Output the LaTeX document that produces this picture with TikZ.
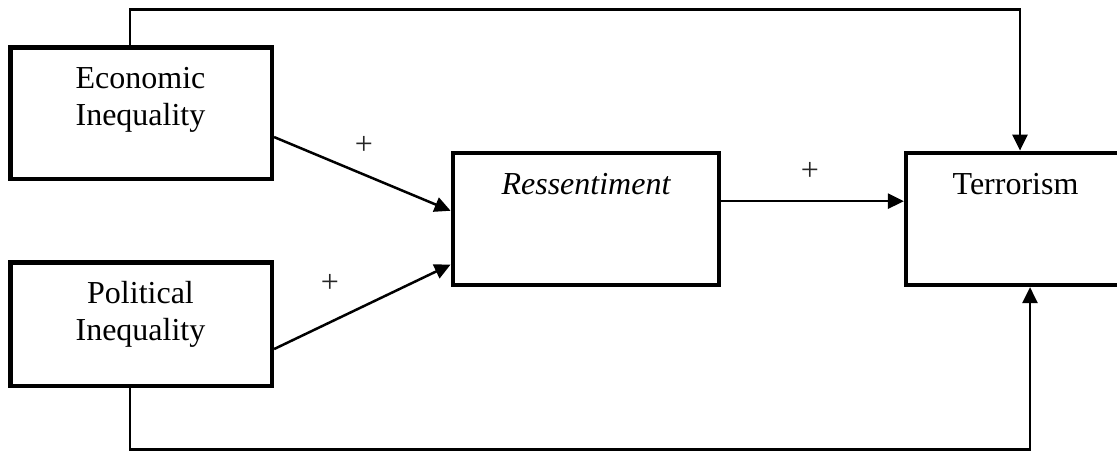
\documentclass[tikz,border=0pt]{standalone}
\usepackage{fontspec}
\setmainfont{Liberation Serif}
\usetikzlibrary{arrows.meta}

\tikzset{
  box/.style={draw=black, line width=2.1pt, inner sep=0pt, fill=white},
  lbl/.style={anchor=base, inner sep=0pt, font=\fontsize{16}{18.3}\selectfont},
  sign/.style={anchor=center, inner sep=0pt, text=black!85, font=\fontsize{16}{18.3}\selectfont},
  link/.style={draw=black, line width=1.25pt, -{Triangle[length=8pt, width=7.5pt]}},
}

\begin{document}
\begin{tikzpicture}[x=0.5pt, y=-0.5pt]
  \useasboundingbox (0,0) rectangle (1117,451);
  \clip (0,0) rectangle (1117,451);

  % boxes
  \node[box, minimum width=130.75pt, minimum height=65.75pt] (eco) at (141.25,113.25) {};
  \node[box, minimum width=130.75pt, minimum height=61.75pt] (pol) at (141.25,324.25) {};
  \node[box, minimum width=133.15pt, minimum height=65.85pt] (res) at (585.85,219.15) {};
  \node[box, minimum width=112pt, minimum height=66.15pt] (ter) at (1018,218.85) {};

  % box texts
  \node[lbl] (ecoA) at (140.5,88) {Economic};
  \node[lbl] (ecoB) at (140.5,125) {Inequality};
  \node[lbl] (polA) at (140.5,303) {Political};
  \node[lbl] (polB) at (140.5,340) {Inequality};
  \node[lbl] (resA) at (586,194) {\itshape Ressentiment};
  \node[lbl] (terA) at (1015.5,194) {Terrorism};

  % signs on the paths
  \node[sign] (s1) at (364,145) {+};
  \node[sign] (s2) at (330,283) {+};
  \node[sign] (s3) at (810,171) {+};

  % corner points of the outer routes
  \coordinate (topr) at (1020,9.5);
  \coordinate (botr) at (1030,449.5);

  % connectors
  \draw[link] ([yshift=-11.9pt]eco.east) -- ([yshift=4.2pt]res.west);
  \draw[link] ([yshift=-12.4pt]pol.east) -- ([yshift=-22.7pt]res.west);
  \draw[link] ([yshift=9pt]res.east) -- ([yshift=9pt]res.east -| ter.west);
  \draw[link] ([xshift=-5.6pt]eco.north) |- (topr) -- (topr |- ter.north);
  \draw[link] ([xshift=-5.6pt]pol.south) |- (botr) -- (botr |- ter.south);
\end{tikzpicture}
\end{document}
